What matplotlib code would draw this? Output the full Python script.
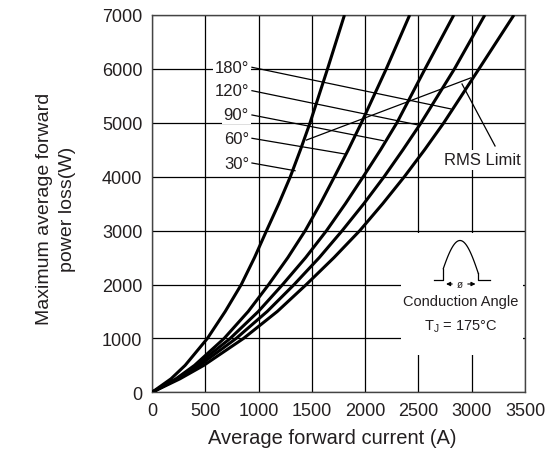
import matplotlib
matplotlib.use("Agg")
import matplotlib.pyplot as plt
from matplotlib.patches import Rectangle
import numpy as np

plt.rcParams['font.family'] = ['Liberation Sans', 'DejaVu Sans']

power = [0, 250, 500, 1000, 1500, 2000, 2500, 3000, 3500, 4000, 4500, 5000, 6000, 7000]
# Average forward current (A) for each conduction angle
cur_30 = [0, 178, 311, 520, 687, 838, 962, 1075, 1190, 1298, 1393, 1483, 1647, 1806]
cur_60 = [0, 225, 399, 677, 903, 1095, 1275, 1438, 1580, 1712, 1842, 1965, 2198, 2418]
cur_90 = [0, 235, 418, 734, 998, 1226, 1442, 1638, 1815, 1982, 2145, 2298, 2562, 2832]
cur_120 = [0, 241, 446, 790, 1081, 1334, 1570, 1785, 1988, 2178, 2355, 2525, 2838, 3123]
cur_180 = [0, 262, 486, 859, 1176, 1448, 1708, 1950, 2165, 2368, 2558, 2738, 3068, 3396]

angle_labels = ["180°", "120°", "90°", "60°", "30°"]
label_pos = [(910, 6030), (910, 5596), (910, 5145), (910, 4713), (910, 4254)]
leader_end = [(2803, 5258), (2499, 4959), (2170, 4668), (1811, 4421), (1342, 4111)]

rms_line_I = [1449, 2992]
rms_line_P = [4680, 5834]

xticks = [0, 500, 1000, 1500, 2000, 2500, 3000, 3500]
yticks = [0, 1000, 2000, 3000, 4000, 5000, 6000, 7000]

txt = '#231f20'
fig = plt.figure(figsize=(5.47, 4.77), dpi=100)
ax = fig.add_axes([152/547, 1-393.3/477, 373/547, 377.3/477])
ax.set_xlim(0, 3500)
ax.set_ylim(0, 7000)
ax.set_xticks(xticks)
ax.set_yticks(yticks)
ax.tick_params(length=0, labelsize=13, labelcolor=txt)
ax.tick_params(axis='x', pad=7)
ax.tick_params(axis='y', pad=7)
ax.grid(True, color='black', linewidth=0.9)
ax.set_axisbelow(True)
for s in ax.spines.values():
    s.set_color('#444444')
    s.set_linewidth(1.0)

for cur in [cur_30, cur_60, cur_90, cur_120, cur_180]:
    ax.plot(cur, power, color='black', linewidth=2.2, zorder=3,
            solid_capstyle='butt', solid_joinstyle='round')

# labels and leaders
for lab, (lx, ly), (ex, ey) in zip(angle_labels, label_pos, leader_end):
    ax.text(lx, ly, lab, ha='right', va='center', fontsize=12, color=txt,
            bbox=dict(facecolor='white', edgecolor='none', pad=1.5), zorder=4)
    ax.plot([lx + 28, ex], [ly, ey], color='black', linewidth=0.9, zorder=4)

# RMS limit
ax.plot(rms_line_I, rms_line_P, color='black', linewidth=0.9, zorder=4)
ax.plot([2909, 3219], [5720, 4570], color='black', linewidth=0.9, zorder=4)
ax.text(3097, 4312, "RMS Limit", ha='center', va='center', fontsize=12, color=txt,
        bbox=dict(facecolor='white', edgecolor='none', pad=2), zorder=4)

# inset white box
ax.add_patch(Rectangle((2337, 688), 3482-2337, 2953-688, facecolor='white',
                       edgecolor='none', zorder=2))

# conduction angle waveform drawn in pixel-based inset axes
iax = fig.add_axes([425/547, 1-292/477, 70/547, 56/477])
iax.set_xlim(425, 495)
iax.set_ylim(292, 236)
iax.axis('off')
x0, x1 = 439.5, 480.5
xs = np.linspace(443.3, 478.3, 60)
ys = 281 - 39.5*np.sin(np.pi*(xs - x0)/(x1 - x0))
iax.plot(xs, ys, color='black', lw=0.9)
ya = 281 - 39.5*np.sin(np.pi*(443.3 - x0)/(x1 - x0))
yb = 281 - 39.5*np.sin(np.pi*(478.3 - x0)/(x1 - x0))
iax.plot([434.3, 443.3, 443.3], [281, 281, ya], color='black', lw=0.9)
iax.plot([490, 478.3, 478.3], [281, 281, yb], color='black', lw=0.9)
iax.annotate('', xy=(443.3, 285), xytext=(455, 285),
             arrowprops=dict(arrowstyle='-|>', color='black', lw=0.8, mutation_scale=6))
iax.annotate('', xy=(478.3, 285), xytext=(465, 285),
             arrowprops=dict(arrowstyle='-|>', color='black', lw=0.8, mutation_scale=6))
iax.text(460, 285, 'ø', ha='center', va='center', fontsize=7, color=txt)

fig.text(461/547, 1-302/477, 'Conduction Angle', ha='center', va='center',
         fontsize=10.5, color=txt)
fig.text(461/547, 1-327/477, r'T$_\mathregular{J}$ = 175°C', ha='center', va='center',
         fontsize=10.5, color=txt)

fig.text(332/547, 1-439/477, 'Average forward current (A)', ha='center', va='center',
         fontsize=14.5, color=txt)
fig.text(56/547, 1-209/477, 'Maximum average forward\npower loss(W)', ha='center',
         va='center', rotation=90, fontsize=14, color=txt, linespacing=1.45)

fig.savefig('out.png', dpi=100)
